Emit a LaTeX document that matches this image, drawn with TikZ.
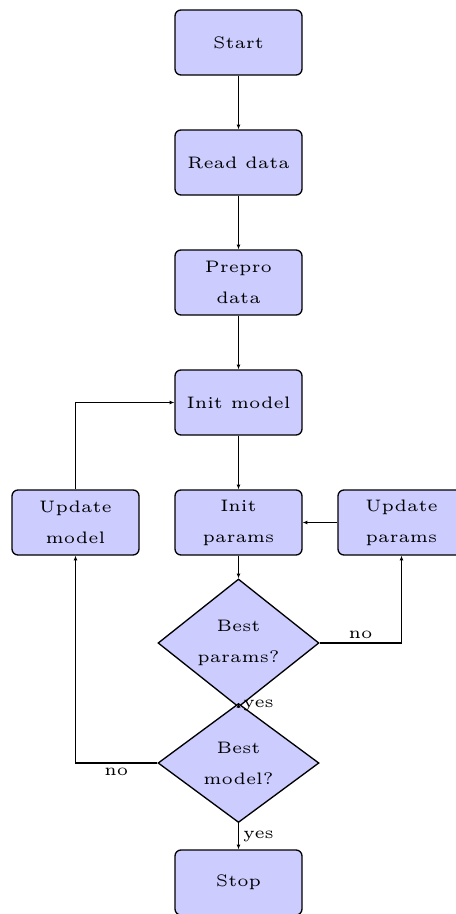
\documentclass[tikz,border=0pt]{standalone}
\usetikzlibrary{shapes.geometric,arrows.meta}
\begin{document}
\begin{tikzpicture}[x=0.3pt,y=-0.3pt,
  every node/.style={font=\fontsize{5}{9.3}\selectfont},
  box/.style={draw=black,fill=blue!20,rounded corners=1.8pt,minimum width=38.1pt,minimum height=19.5pt,inner sep=0pt,align=center},
  decision/.style={draw=black,fill=blue!20,diamond,minimum width=48.3pt,minimum height=35.7pt,inner sep=0pt,align=center},
  arr/.style={-{Latex[length=1.4pt,width=1.2pt]},line width=0.4pt},
  lbl/.style={inner sep=1.2pt}]
\useasboundingbox (0,0) rectangle (456,914);
\node[box] (start) at (238.5,42.5) {Start};
\node[box] (read) at (238.5,162.5) {Read data};
\node[box] (prep) at (238.5,282.5) {Prepro\\data};
\node[box] (initm) at (238.5,402.5) {Init model};
\node[box] (initp) at (238.5,522.5) {Init\\params};
\node[box] (updm) at (75.5,522.5) {Update\\model};
\node[box] (updp) at (401.5,522.5) {Update\\params};
\node[decision] (bp) at (238.5,643) {Best\\params?};
\node[decision] (bm) at (238.5,763) {Best\\model?};
\node[box] (stop) at (238.5,882.5) {Stop};
\draw[arr] (start) -- (read);
\draw[arr] (read) -- (prep);
\draw[arr] (prep) -- (initm);
\draw[arr] (initm) -- (initp);
\draw[arr] (initp) -- (bp);
\draw[arr] (bp.south) -- node[lbl,right] {yes} (bm.north);
\draw[arr] (bp.east) -- node[lbl,above] {no} (bp.east -| updp) -- (updp.south);
\draw[arr] (updp.west) -- (initp.east);
\draw[arr] (bm.west) -- node[lbl,below] {no} (bm.west -| updm) -- (updm.south);
\draw[arr] (updm.north) |- (initm.west);
\draw[arr] (bm.south) -- node[lbl,right] {yes} (stop.north);
\end{tikzpicture}
\end{document}
